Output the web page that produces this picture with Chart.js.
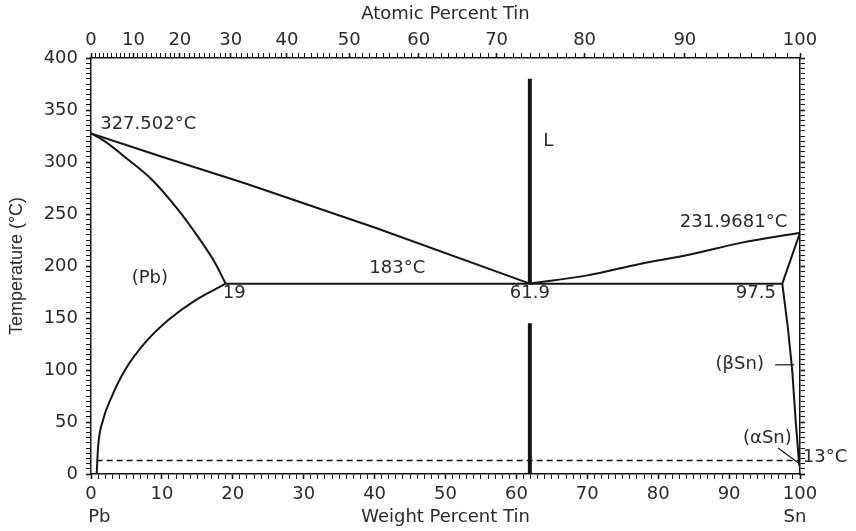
<!DOCTYPE html>
<html>
<head>
<meta charset="utf-8">
<script src="https://cdn.jsdelivr.net/npm/chart.js@4.4.0/dist/chart.umd.min.js"></script>
<style>
  html, body { margin: 0; padding: 0; background: #fff; }
  #wrap { width: 856px; height: 531px; position: relative; }
</style>
</head>
<body>
<div id="wrap"><canvas id="chart"></canvas></div>
<script>
// Pb-Sn phase diagram: weight percent tin vs temperature

// tick labels
const weightTicks = [0, 10, 20, 30, 40, 50, 60, 70, 80, 90, 100];
const atomicTicks = [0, 10, 20, 30, 40, 50, 60, 70, 80, 90, 100];
const tempTicks = [0, 50, 100, 150, 200, 250, 300, 350, 400];

// phase boundaries, [wt% Sn, degC]
const liquidusPb = [[0, 327.5], [10, 305], [21.7, 279.5], [40, 237], [61.9, 183]];
const solidusPb = [[0, 327.5], [1.7, 321], [5.3, 302], [8.6, 283], [12.3, 254], [15.1, 228], [17.5, 203], [19, 183]];
const solvusPb = [[19, 183], [14.7, 167], [10.9, 148], [7.6, 126], [4.8, 100], [2.9, 74], [1.7, 52], [1.0, 26], [0.8, 0]];
const eutecticLine = [[19, 183], [97.5, 183]];
const liquidusSn = [[61.9, 183], [70, 191], [77.4, 202], [84.5, 211], [91.5, 222], [100, 232]];
const solidusSn = [[100, 232], [97.5, 183]];
const solvusSn = [[97.5, 183], [98.3, 140], [98.9, 100], [99.4, 50], [99.9, 8]];
const alphaBeta = [[0.8, 13], [100, 13]];
const alloyAbove = [[61.9, 183], [61.9, 380]];
const alloyBelow = [[61.9, 0], [61.9, 145]];
const betaPointer = [[96.5, 105], [99.2, 105]];
const alphaPointer = [[96.9, 25], [99.8, 10.6]];

// atomic -> weight percent Sn (Sn 118.71, Pb 207.2)
const atToWt = a => 100 * a * 118.71 / (a * 118.71 + (100 - a) * 207.2);

const range = (a, b, s) => {
  const out = [];
  for (let v = a; v <= b + 1e-9; v += s) out.push(+v.toFixed(3));
  return out;
};
const pts = arr => arr.map(([x, y]) => ({ x, y }));

const ink = '#151515';
const textColor = '#2a2a2a';
const font = { family: 'DejaVu Sans', size: 18 };

function line(data, width, extra) {
  return Object.assign({
    data: pts(data),
    showLine: true,
    borderColor: ink,
    borderWidth: width,
    pointRadius: 0,
    pointHoverRadius: 0,
    fill: false,
    tension: 0
  }, extra || {});
}
const smooth = { cubicInterpolationMode: 'monotone' };

const notes = [
  { text: '327.502\u00B0C', x: 1.3, y: 336.5, align: 'left' },
  { text: 'L', x: 64.5, y: 319.5, align: 'center' },
  { text: '231.9681\u00B0C', x: 98.2, y: 241.6, align: 'right' },
  { text: '(Pb)', x: 8.3, y: 188.5, align: 'center' },
  { text: '19', x: 18.6, y: 174, align: 'left' },
  { text: '183\u00B0C', x: 43.2, y: 198, align: 'center' },
  { text: '61.9', x: 61.9, y: 174, align: 'center' },
  { text: '97.5', x: 96.6, y: 174, align: 'right' },
  { text: '(\u03B2Sn)', x: 91.5, y: 105, align: 'center' },
  { text: '(\u03B1Sn)', x: 95.4, y: 34.6, align: 'center' },
  { text: '13\u00B0C', x: 100.4, y: 16, align: 'left' },
  { text: 'Pb', x: -0.4, y: -41.3, align: 'left' },
  { text: 'Sn', x: 99.3, y: -41.3, align: 'center' }
];

const notePlugin = {
  id: 'notes',
  afterDatasetsDraw(chart) {
    const { ctx, scales: { x, y } } = chart;
    ctx.save();
    ctx.font = '18px "DejaVu Sans"';
    ctx.fillStyle = textColor;
    ctx.textBaseline = 'middle';
    notes.forEach(n => {
      ctx.textAlign = n.align;
      ctx.fillText(n.text, x.getPixelForValue(n.x), y.getPixelForValue(n.y));
    });
    ctx.restore();
  }
};

const border = { display: true, color: ink, width: 1.5 };
const tickGrid = isMajor => ({
  drawOnChartArea: false,
  tickLength: 5,
  tickColor: ink,
  tickWidth: c => (isMajor(c) ? 1.6 : 1)
});

const atomicMinor = range(0, 100, 1);

new Chart(document.getElementById('chart'), {
  type: 'scatter',
  data: {
    datasets: [
      line(liquidusPb, 2),
      line(solidusPb, 2, smooth),
      line(solvusPb, 2, smooth),
      line(eutecticLine, 2),
      line(liquidusSn, 2, smooth),
      line(solidusSn, 2),
      line(solvusSn, 2),
      line(alphaBeta, 1.5, { borderDash: [6, 4] }),
      line(alloyAbove, 4),
      line(alloyBelow, 4),
      line(betaPointer, 1.2),
      line(alphaPointer, 1.2)
    ]
  },
  options: {
    responsive: true,
    maintainAspectRatio: false,
    animation: false,
    layout: { padding: 0 },
    plugins: { legend: { display: false }, tooltip: { enabled: false } },
    scales: {
      x: {
        type: 'linear', position: 'bottom', min: 0, max: 100,
        afterBuildTicks: s => { s.ticks = range(0, 100, 1).map(v => ({ value: v })); },
        afterFit: s => { s.height = 57; },
        ticks: {
          autoSkip: false, maxRotation: 0, minRotation: 0, padding: 5, color: textColor, font,
          callback: v => (weightTicks.includes(v) ? String(v) : '')
        },
        grid: tickGrid(c => c.tick && weightTicks.includes(c.tick.value)),
        border,
        title: { display: true, text: 'Weight Percent Tin', color: textColor, font, padding: { top: 0, bottom: 3 } }
      },
      xTop: {
        type: 'linear', position: 'top', min: 0, max: 100,
        afterBuildTicks: s => { s.ticks = atomicMinor.map(a => ({ value: atToWt(a) })); },
        afterFit: s => { s.height = 58; },
        ticks: {
          autoSkip: false, maxRotation: 0, minRotation: 0, padding: 2, color: textColor, font,
          callback: (v, i) => (atomicTicks.includes(atomicMinor[i]) ? String(atomicMinor[i]) : '')
        },
        grid: tickGrid(c => atomicTicks.includes(atomicMinor[c.index])),
        border,
        title: { display: true, text: 'Atomic Percent Tin', color: textColor, font, padding: { top: 4, bottom: 0 } }
      },
      y: {
        type: 'linear', position: 'left', min: 0, max: 400,
        afterBuildTicks: s => { s.ticks = range(0, 400, 5).map(v => ({ value: v })); },
        afterFit: s => { s.width = 91; },
        ticks: {
          autoSkip: false, padding: 8, color: textColor, font,
          callback: v => (tempTicks.includes(v) ? String(v) : '')
        },
        grid: tickGrid(c => c.tick && tempTicks.includes(c.tick.value)),
        border,
        title: { display: true, text: 'Temperature (\u00B0C)', color: textColor, font: { family: 'Liberation Sans', size: 18 }, padding: { top: 6, bottom: 0 } }
      },
      yR: {
        type: 'linear', position: 'right', min: 0, max: 400,
        afterBuildTicks: s => { s.ticks = range(0, 400, 5).map(v => ({ value: v })); },
        afterFit: s => { s.width = 56; },
        ticks: { autoSkip: false, display: false },
        grid: tickGrid(c => c.tick && tempTicks.includes(c.tick.value)),
        border
      }
    }
  },
  plugins: [notePlugin]
});
</script>
</body>
</html>
